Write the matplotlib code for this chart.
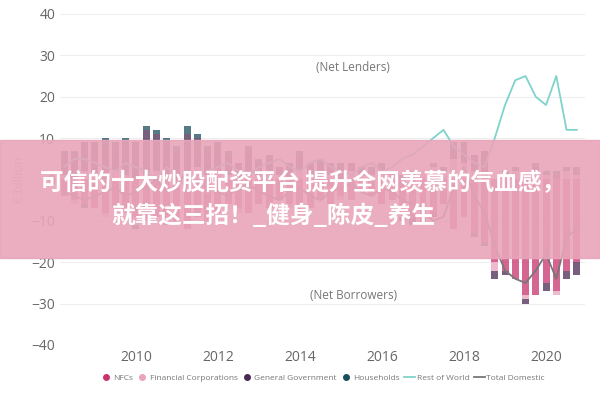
import matplotlib.pyplot as plt
import numpy as np
from matplotlib.patches import Rectangle
from matplotlib.lines import Line2D

plt.rcParams['font.family'] = ['Open Sans', 'Noto Sans CJK SC', 'DejaVu Sans']

# quarterly data, 2008Q2 .. 2020Q4 (EUR billion)
nfcs = [-4, -5, -6, -7, -8, -7, -8, -9, -10, -9, -11, -10, -12, -9, -10, -8, -6, -7, -8, -6,
        -7, -5, -6, -8, -7, -5, -6, -4, -5, -3, -4, -6, -5, -8, -9, -10, -8, -6, -12, -9,
        -13, -15, -20, -22, -24, -28, -28, -25, -27, -22, -20]
fin_corp = [1, -1, 2, 1, -1, 2, 1, -2, 1, 2, 1, -1, 2, 3, 1, 2, 1, -1, 2, 1,
            2, 1, -1, 2, 1, 2, 1, -1, 2, 1, 1, 2, 1, -1, 1, 2, 3, 2, 5, 4,
            2, 1, -2, 1, 2, -1, 2, 1, -1, 2, 1]
gen_gov = [5, 6, 7, 7, 8, 6, 8, 9, 11, 9, 8, 7, 9, 7, 6, 6, 5, 4, 5, 3,
           3, 2, 3, 4, 3, 2, 2, 3, 2, 1, 1, 1, 0, -1, -2, -1, -1, 0, 2, 3,
           4, 6, -2, -1, 0, -1, 1, -2, 1, -2, -3]
households = [1, 1, -1, 1, 2, 1, 1, -1, 1, 1, 1, 1, 2, 1, 1, 1, 1, 0, 1, 1,
              1, 0, 1, 1, 0, 1, 1, 1, 0, 1, 1, 1, 1, 1, 1, 0, 1, 1, 2, 2,
              -1, -1, 0, 1, 1, 0, 1, 1, 1, 1, 2]
rest_of_world = [3, 5, 5, 4, 3, 2, 4, 3, 2, 0, 3, 1, -2, 1, 2, 3, 4, 2, 1, 3,
                 4, 5, 3, 2, 4, 5, 3, 2, 1, 3, 4, 2, 3, 5, 6, 8, 10, 12, 8, 6,
                 4, 3, 10, 18, 24, 25, 20, 18, 25, 12, 12]
total_domestic = [-3, -4, -5, -4, -3, -2, -4, -3, -2, 0, -3, -1, 2, -1, -2, -3, -4, -2, -1, -3,
                  -4, -5, -3, -2, -4, -5, -3, -2, -1, -3, -4, -2, -3, -5, -6, -8, -10, -9, -2, 3,
                  -4, -8, -16, -22, -24, -25, -22, -18, -24, -14, -12]

quarters = 2008.25 + 0.25 * np.arange(len(nfcs))

series = [('NFCs', nfcs, '#c8336e'),
          ('Financial Corporations', fin_corp, '#e9a3bd'),
          ('General Government', gen_gov, '#4a2a52'),
          ('Households', households, '#1b4f5e')]

fig = plt.figure(figsize=(6, 4), dpi=100)
ax = fig.add_axes([0.1, 0.1375, 0.875, 0.8275])

pos_base = np.zeros(len(quarters))
neg_base = np.zeros(len(quarters))
for name, vals, col in series:
    v = np.array(vals, dtype=float)
    bottom = np.where(v >= 0, pos_base, neg_base)
    ax.bar(quarters, v, 0.17, bottom=bottom, color=col, alpha=0.75)
    pos_base += np.clip(v, 0, None)
    neg_base += np.clip(v, None, 0)

ax.plot(quarters, rest_of_world, color='#7fd3cc', lw=1.3)
ax.plot(quarters, total_domestic, color='#777777', lw=1.3)

ax.set_ylim(-40, 40)
ax.set_xlim(2008.15, 2020.95)
ax.set_yticks(range(-40, 41, 10))
ax.set_xticks(range(2010, 2021, 2))
ax.tick_params(length=0, colors='#666666', labelsize=10)
ax.grid(axis='y', color='#eeeeee', lw=0.8)
ax.set_axisbelow(True)
for s in ax.spines.values():
    s.set_visible(False)
ax.set_ylabel('€ billion', color='#bbbbbb', fontsize=9)

ax.text(2015.3, 27, '(Net Lenders)', ha='center', va='center', color='#777777', fontsize=8.5)
ax.text(2015.3, -28, '(Net Borrowers)', ha='center', va='center', color='#777777', fontsize=8.5)

handles = [Line2D([], [], ls='', marker='o', ms=4, color=c, label=n) for n, _, c in series]
handles += [Line2D([], [], color='#7fd3cc', lw=1.3, label='Rest of World'),
            Line2D([], [], color='#777777', lw=1.3, label='Total Domestic')]
ax.legend(handles=handles, loc='upper center', bbox_to_anchor=(0.5, -0.065), ncol=6,
          frameon=False, fontsize=6, handlelength=1.3, handletextpad=0.2,
          columnspacing=0.5, labelcolor='#777777')

# overlay banner
fig.patches.append(Rectangle((0, 0.355), 1, 0.295, transform=fig.transFigure,
                             color='#e8a5ba', alpha=0.9, zorder=10))
fig.text(0.505, 0.543, '可信的十大炒股配资平台 提升全网羡慕的气血感，', ha='center', va='center',
         color='white', fontsize=17, fontweight='bold', zorder=11,
         family=['Noto Sans CJK SC', 'DejaVu Sans'])
fig.text(0.185, 0.46, '就靠这三招！_健身_陈皮_养生', ha='left', va='center',
         color='white', fontsize=17, fontweight='bold', zorder=11,
         family=['Noto Sans CJK SC', 'DejaVu Sans'])

fig.savefig('out.png')
